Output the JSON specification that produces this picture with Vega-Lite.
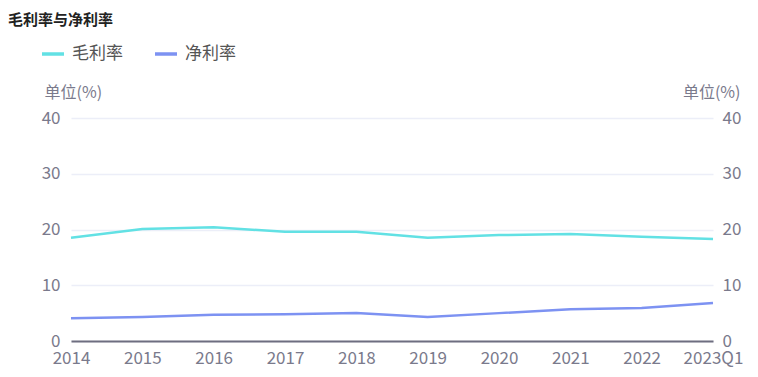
{
  "$schema": "https://vega.github.io/schema/vega-lite/v6.json",
  "width": 642,
  "height": 223,
  "autosize": {"type": "none"},
  "padding": {"left": 71, "top": 118, "right": 45, "bottom": 36},
  "background": "white",
  "title": {
    "text": "毛利率与净利率",
    "anchor": "start",
    "frame": "group",
    "orient": "top",
    "dx": -63,
    "offset": 13,
    "fontSize": 15,
    "fontWeight": "bold",
    "color": "#222222",
    "font": "Noto Sans CJK SC"
  },
  "config": {
    "font": "Noto Sans CJK SC",
    "view": {"stroke": null}
  },
  "data": {
    "values": [
      {"period": "2014", "series": "毛利率", "value": 18.5},
      {"period": "2015", "series": "毛利率", "value": 20.1},
      {"period": "2016", "series": "毛利率", "value": 20.4},
      {"period": "2017", "series": "毛利率", "value": 19.6},
      {"period": "2018", "series": "毛利率", "value": 19.6},
      {"period": "2019", "series": "毛利率", "value": 18.5},
      {"period": "2020", "series": "毛利率", "value": 19.0},
      {"period": "2021", "series": "毛利率", "value": 19.2},
      {"period": "2022", "series": "毛利率", "value": 18.7},
      {"period": "2023Q1", "series": "毛利率", "value": 18.3},
      {"period": "2014", "series": "净利率", "value": 4.1},
      {"period": "2015", "series": "净利率", "value": 4.3},
      {"period": "2016", "series": "净利率", "value": 4.7},
      {"period": "2017", "series": "净利率", "value": 4.8},
      {"period": "2018", "series": "净利率", "value": 5.0},
      {"period": "2019", "series": "净利率", "value": 4.3},
      {"period": "2020", "series": "净利率", "value": 5.0},
      {"period": "2021", "series": "净利率", "value": 5.7},
      {"period": "2022", "series": "净利率", "value": 5.9},
      {"period": "2023Q1", "series": "净利率", "value": 6.8}
    ]
  },
  "encoding": {
    "x": {
      "field": "period",
      "type": "ordinal",
      "sort": null,
      "scale": {"type": "point", "padding": 0},
      "axis": {
        "title": null,
        "labelAngle": 0,
        "labelFontSize": 17,
        "labelColor": "#7a7a8c",
        "labelPadding": 9,
        "ticks": false,
        "domainColor": "#6e6e80",
        "domainWidth": 2,
        "grid": false
      }
    }
  },
  "layer": [
    {
      "mark": {"type": "line", "strokeWidth": 2.5},
      "encoding": {
        "y": {
          "field": "value",
          "type": "quantitative",
          "scale": {"domain": [0, 40]},
          "axis": {
            "values": [0, 10, 20, 30, 40],
            "orient": "left",
            "title": "单位(%)",
            "titleAngle": 0,
            "titleAlign": "left",
            "titleBaseline": "middle",
            "titleX": -27,
            "titleY": -26,
            "titleFontSize": 16,
            "titleFontWeight": "normal",
            "titleColor": "#7a7a8c",
            "labelFontSize": 17,
            "labelColor": "#7a7a8c",
            "labelPadding": 11,
            "ticks": false,
            "domain": false,
            "grid": true,
            "gridColor": "#eceef8",
            "gridWidth": 1.5
          }
        },
        "color": {
          "field": "series",
          "type": "nominal",
          "scale": {"domain": ["毛利率", "净利率"], "range": ["#62e1e4", "#7d92f2"]},
          "legend": {
            "title": null,
            "orient": "none",
            "direction": "horizontal",
            "legendX": -31,
            "legendY": -77,
            "symbolType": "stroke",
            "symbolSize": 484,
            "symbolStrokeWidth": 3.5,
            "labelFontSize": 17,
            "labelColor": "#555555",
            "labelOffset": 6,
            "columnPadding": 25
          }
        }
      }
    },
    {
      "mark": {"type": "line", "opacity": 0},
      "encoding": {
        "y": {
          "field": "value",
          "type": "quantitative",
          "scale": {"domain": [0, 40]},
          "axis": {
            "values": [0, 10, 20, 30, 40],
            "orient": "right",
            "title": "单位(%)",
            "titleAngle": 0,
            "titleAlign": "right",
            "titleBaseline": "middle",
            "titleX": 27,
            "titleY": -26,
            "titleFontSize": 16,
            "titleFontWeight": "normal",
            "titleColor": "#7a7a8c",
            "labelFontSize": 17,
            "labelColor": "#7a7a8c",
            "labelPadding": 9,
            "ticks": false,
            "domain": false,
            "grid": false
          }
        },
        "detail": {"field": "series"}
      }
    }
  ],
  "resolve": {"scale": {"y": "independent"}}
}
